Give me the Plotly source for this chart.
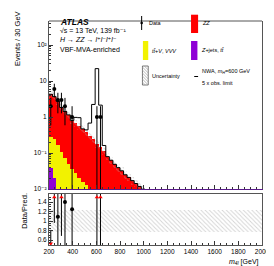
import plotly.graph_objects as go
import numpy as np

# ---- data ----
bin_edges = list(range(200, 2001, 30))
zz = [4.02, 3.45, 2.58, 1.74, 1.355, 1.10, 0.764, 0.652, 0.54, 0.454, 0.367, 0.29, 0.233, 0.175, 0.141,
      0.109, 0.077, 0.061, 0.047, 0.038, 0.031, 0.024, 0.0203, 0.0165, 0.0137, 0.0114, 0.0096, 0.008,
      0.0068, 0.0057, 0.0048, 0.0041, 0.0035, 0.003, 0.0026, 0.0022, 0.0019, 0.0017, 0.0015, 0.0013,
      0.0011, 0.001, 0.0009, 0.0008, 0.0007, 0.0006, 0.00055, 0.0005, 0.00045, 0.0004, 0.00035, 0.0003,
      0.00027, 0.00024, 0.00021, 0.00019, 0.00017, 0.00015, 0.00013, 0.00012]
ttv_vvv = [0.242, 0.23, 0.16, 0.104, 0.071, 0.047, 0.034, 0.026, 0.0195, 0.015, 0.012, 0.009, 0.007,
           0.005, 0.004, 0.003, 0.0024, 0.0019, 0.0015, 0.0012, 0.001, 0.0008, 0.0006, 0.0005, 0.0004,
           0.0003, 0.0002, 0.0002, 0.0001, 0.0001] + [0.0001] * 30
zjets_tt = [0.038, 0.02, 0.01, 0.006, 0.004, 0.003, 0.002, 0.0015, 0.001, 0.0008, 0.0006, 0.0005,
            0.0004, 0.0003, 0.0002] + [0.0001] * 45
signal_nwa600 = [0, 0, 0, 0, 0, 0, 0, 0.3, 0.4, 0.0, 0.06, 0.38, 2.0, 22.0, 2.0, 0.05] + [0] * 44
unc_rel_down = 0.22
unc_rel_up = 0.24

data_bin_index = [0, 1, 2, 3, 4, 6, 13, 14]
data_counts = [2, 6, 3, 3, 2, 1, 1, 1]
data_err = [1.41, 2.45, 1.73, 1.73, 1.41, 1.0, 1.0, 1.0]

x_ticks = [200, 400, 600, 800, 1000, 1200, 1400, 1600, 1800, 2000]
y_ticks = [0.01, 0.1, 1, 10, 100]
y_ticktext = ["10\u207b\u00b2", "10\u207b\u00b9", "1", "10", "10\u00b2"]
r_ticks = [0.6, 0.8, 1.0, 1.2, 1.4]
r_ticktext = ["0.6", "0.8", "1", "1.2", "1.4"]

# ---- derived ----
edges = np.array(bin_edges, dtype=float)
centers = 0.5 * (edges[:-1] + edges[1:])
bw = edges[1] - edges[0]
zz_a = np.array(zz); ttv_a = np.array(ttv_vvv); zj_a = np.array(zjets_tt)
tot = zz_a + ttv_a + zj_a
cum_yellow = ttv_a + zj_a
sig_tot = tot + np.array(signal_nwa600)

dx = centers[data_bin_index]
dy = np.array(data_counts, dtype=float)
de = np.array(data_err)
bkg_at = tot[data_bin_index]
ratio = dy / bkg_at
ratio_err = de / bkg_at

FONT = "Liberation Sans, Arial, DejaVu Sans, sans-serif"
R_LO, R_HI = 0.495, 1.57
HATCH = dict(shape="\\", fgcolor="#a8a8a8", bgcolor="rgba(0,0,0,0)", size=3, solidity=0.3, fillmode="overlay")

fig = go.Figure()

for vals, col in [(tot, "#ff0000"), (cum_yellow, "#f2f200"), (zj_a, "#8f00d6")]:
    fig.add_trace(go.Bar(x=centers, y=vals, width=bw, marker=dict(color=col, line=dict(width=0)),
                         xaxis="x", yaxis="y", showlegend=False))
fig.add_trace(go.Bar(x=centers, y=tot * (unc_rel_up + unc_rel_down), base=tot * (1 - unc_rel_down),
                     width=bw, xaxis="x", yaxis="y", showlegend=False,
                     marker=dict(color="rgba(0,0,0,0)", line=dict(width=0), pattern=HATCH)))
sx = np.concatenate([edges[:-1], [edges[-1]]])
sy = np.concatenate([sig_tot, [sig_tot[-1]]])
fig.add_trace(go.Scatter(x=sx, y=sy, mode="lines", line=dict(color="black", width=1, shape="hv"),
                         xaxis="x", yaxis="y", showlegend=False))
ex, ey = [], []
for xx, yy, ee in zip(dx, dy, de):
    ex += [xx, xx, None]
    ey += [max(yy - ee, 1e-4), yy + ee, None]
fig.add_trace(go.Scatter(x=ex, y=ey, mode="lines", line=dict(color="black", width=1),
                         xaxis="x", yaxis="y", showlegend=False))
fig.add_trace(go.Scatter(x=dx, y=dy, mode="markers", marker=dict(color="black", size=4),
                         xaxis="x", yaxis="y", showlegend=False))

# ratio panel
fig.add_trace(go.Bar(x=centers, y=[unc_rel_up + unc_rel_down] * len(centers),
                     base=[1 - unc_rel_down] * len(centers), width=bw, xaxis="x2", yaxis="y2",
                     showlegend=False, marker=dict(color="rgba(0,0,0,0)", line=dict(width=0), pattern=HATCH)))
rx, ry = [], []
for xx, rr, ee in zip(dx, ratio, ratio_err):
    rx += [xx, xx, None]
    ry += [rr - ee, rr + ee, None]
fig.add_trace(go.Scatter(x=rx, y=ry, mode="lines", line=dict(color="black", width=1),
                         xaxis="x2", yaxis="y2", showlegend=False))
inr = (ratio >= R_LO) & (ratio <= R_HI)
fig.add_trace(go.Scatter(x=dx[inr], y=ratio[inr], mode="markers", marker=dict(color="black", size=4),
                         xaxis="x2", yaxis="y2", showlegend=False))
up = ratio > R_HI
dn = ratio < R_LO
fig.add_trace(go.Scatter(x=dx[up], y=[R_HI - 0.07] * int(up.sum()), mode="markers",
                         marker=dict(color="red", size=4, symbol="triangle-up"),
                         xaxis="x2", yaxis="y2", showlegend=False))
fig.add_trace(go.Scatter(x=dx[dn], y=[R_LO + 0.03] * int(dn.sum()), mode="markers",
                         marker=dict(color="red", size=4, symbol="triangle-down"),
                         xaxis="x2", yaxis="y2", showlegend=False))

L, R, T, B = 41, 13, 13, 29
W, H = 274, 266
PW, PH = W - L - R, H - T - B


def px(x):
    return (x - L) / PW


def py(y):
    return (H - B - y) / PH


axis_common = dict(showline=True, linecolor="#555", linewidth=1, ticks="inside",
                   ticklen=4, tickcolor="#333", showgrid=False, zeroline=False,
                   tickfont=dict(family=FONT, size=6.5, color="black"))

fig.update_layout(
    width=W, height=H, margin=dict(l=L, r=R, t=T, b=B),
    paper_bgcolor="white", plot_bgcolor="white", barmode="overlay", bargap=0,
    font=dict(family=FONT, color="black"),
    xaxis=dict(domain=[0, 1], range=[200, 2000], anchor="y", showticklabels=False, tickvals=x_ticks,
               minor=dict(ticks="inside", ticklen=2, dtick=50, tick0=200, tickcolor="#333"),
               **{**axis_common, "linecolor": "#5a1a8a", "mirror": False}),
    yaxis=dict(domain=[0.25, 1], type="log", range=[-2, 2.67], anchor="x", tickvals=y_ticks,
               ticktext=y_ticktext, mirror=True,
               minor=dict(ticks="inside", ticklen=2, tickcolor="#333",
                          tickvals=[m * 10.0 ** e for e in range(-2, 3) for m in range(2, 10)]),
               **axis_common),
    xaxis2=dict(domain=[0, 1], range=[200, 2000], anchor="y2", tickvals=x_ticks, mirror=True,
                minor=dict(ticks="inside", ticklen=2, dtick=50, tick0=200, tickcolor="#333"), **axis_common),
    yaxis2=dict(domain=[0, 0.228], range=[R_LO, R_HI], anchor="x2", tickvals=r_ticks, ticktext=r_ticktext,
                mirror=True,
                minor=dict(ticks="inside", ticklen=2, dtick=0.05, tick0=0.5, tickcolor="#333"),
                **axis_common),
)

ann = []


def text(x, y, s, size=6, xanchor="left", angle=0):
    ann.append(dict(x=px(x), y=py(y), xref="paper", yref="paper", text=s, showarrow=False,
                    xanchor=xanchor, yanchor="middle", textangle=angle,
                    font=dict(family=FONT, size=size, color="black")))


text(50, 13.5, "<b><i>ATLAS</i></b>", 8.5)
text(50, 22.7, "\u221as = 13 TeV, 139 fb\u207b\u00b9", 7)
text(50, 31.7, "<i>H \u2192 ZZ \u2192 l\u207al\u207bl\u207al\u207b</i>", 7)
text(50, 41.7, "VBF-MVA-enriched", 7)

text(142.5, 15, "Data", 5.5)
text(197, 15, "<i>ZZ</i>", 5.5)
text(145, 43, "<i>t</i><i>t\u0304</i>+<i>V</i>, <i>VVV</i>", 5.5)
text(196, 42, "<i>Z</i>+jets, <i>t</i><i>t\u0304</i>", 5.5)
text(145, 68, "Uncertainty", 5.5)
text(197, 64, "NWA, <i>m<sub>H</sub></i>=600 GeV", 5.5)
text(197, 75, "5 x obs. limit", 5.5)

text(8, 31, "Events / 30 GeV", 7.5, xanchor="center", angle=-90)
text(15, 203, "Data/Pred.", 7.5, xanchor="center", angle=-90)
text(260, 254, "<i>m<sub>4l</sub></i> [GeV]", 7, xanchor="right")

fig.update_layout(annotations=ann)

shapes = []


def rect(x0, y0, x1, y1, col, line=None):
    shapes.append(dict(type="rect", xref="paper", yref="paper", x0=px(x0), x1=px(x1), y0=py(y1), y1=py(y0),
                       fillcolor=col, line=line or dict(width=0)))


shapes.append(dict(type="line", xref="x domain", yref="y domain", x0=0, x1=1, y0=1, y1=1,
                   line=dict(color="#555", width=1)))
rect(187.7, 6.7, 195, 25, "#ff0000")
rect(138, 33, 143.5, 52, "#f2f200")
rect(187.7, 33, 194.3, 52, "#8f00d6")
rect(137.5, 58, 143.5, 77, "white", dict(color="#555", width=0.8))
hx0, hx1 = 137.5, 143.5
for k in range(8):
    ya = 56 + 3 * k
    yb = ya + 6
    ya_c, yb_c = max(ya, 58), min(yb, 77)
    xa = hx0 + (ya_c - ya)
    xb = hx0 + (yb_c - ya)
    if xb > hx1:
        yb_c -= xb - hx1
        xb = hx1
    if xa < xb:
        shapes.append(dict(type="line", xref="paper", yref="paper", x0=px(xa), y0=py(ya_c), x1=px(xb),
                           y1=py(yb_c), line=dict(color="#a0a0a0", width=0.7)))
shapes.append(dict(type="line", xref="paper", yref="paper", x0=px(136.7), x1=px(136.7), y0=py(22), y1=py(8),
                   line=dict(color="black", width=1)))
shapes.append(dict(type="circle", xref="paper", yref="paper", x0=px(135.4), x1=px(138), y0=py(16.3),
                   y1=py(13.7), fillcolor="black", line=dict(width=0)))
shapes.append(dict(type="line", xref="paper", yref="paper", x0=px(191), x1=px(195), y0=py(68.5), y1=py(68.5),
                   line=dict(color="black", width=1)))
fig.update_layout(shapes=shapes)

fig.write_html("out.html")
